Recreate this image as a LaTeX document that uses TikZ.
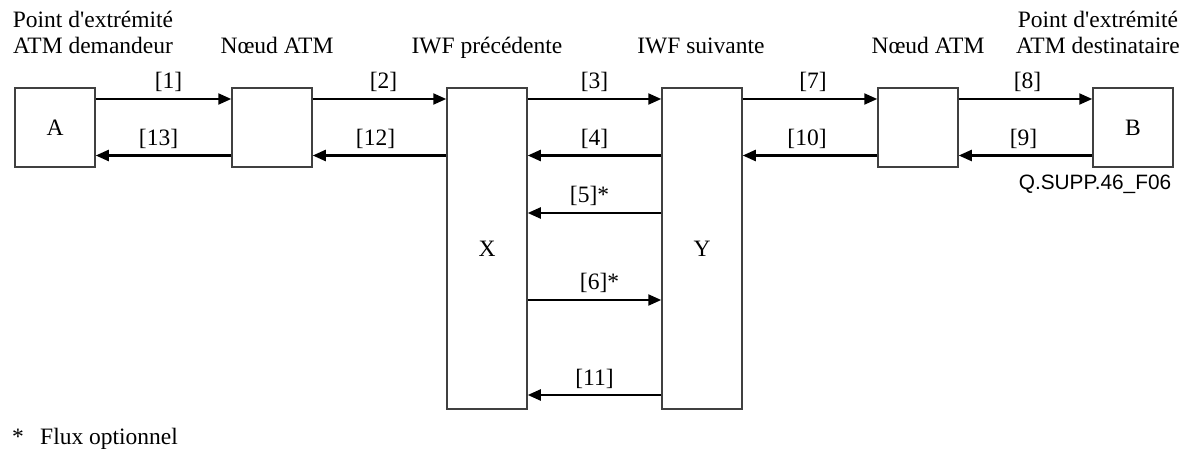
\documentclass[tikz,border=0pt]{standalone}
\usepackage{fontspec}
\setmainfont{Liberation Serif}
\newfontfamily\arialfont{Liberation Sans}
\usetikzlibrary{arrows.meta}
\begin{document}
\begin{tikzpicture}[x=1pt,y=-1pt,
  txt/.style={font=\fontsize{23.5}{27}\selectfont, inner sep=0pt},
  box/.style={txt, draw=black!75, line width=1.5pt, minimum width=80pt},
  smallbox/.style={box, minimum height=79pt},
  tallbox/.style={box, minimum height=321pt},
  flow/.style={line width=2.2pt, -{Triangle[length=13pt,width=11pt]}},
  lbl/.style={txt, anchor=base, midway, yshift=10pt},
  head/.style={txt, anchor=base}]
\useasboundingbox (0,0) rectangle (1192,454);
% boxes
\node[smallbox] (A)  at (55,127.5)  {A};
\node[smallbox] (N1) at (272,127.5) {};
\node[tallbox]  (X)  at (487,248.5) {X};
\node[tallbox]  (Y)  at (702,248.5) {Y};
\node[smallbox] (N2) at (918,127.5) {};
\node[smallbox] (B)  at (1133,127.5) {B};
% row levels
\coordinate (r1) at (0,99);
\coordinate (r2) at (0,155.5);
\coordinate (r3) at (0,213);
\coordinate (r4) at (0,300);
\coordinate (r5) at (0,395);
% headings
\node[head] (h1a) at (93,28) {Point d\textquotesingle extrémité};
\node[head] (h1b) at (93,54) {ATM demandeur};
\node[head] (h2)  at (277,54) {Nœud ATM};
\node[head] (h3)  at (487,54) {IWF précédente};
\node[head] (h4)  at (701,54) {IWF suivante};
\node[head] (h5)  at (928,54) {Nœud ATM};
\node[head] (h6a) at (1098,28) {Point d\textquotesingle extrémité};
\node[head] (h6b) at (1098,54) {ATM destinataire};
% flows
\draw[flow] (A.east |- r1) -- (N1.west |- r1) node[lbl, xshift=5pt] {[1]};
\draw[flow] (N1.east |- r1) -- (X.west |- r1) node[lbl, xshift=4pt] {[2]};
\draw[flow] (X.east |- r1) -- (Y.west |- r1) node[lbl] {[3]};
\draw[flow] (Y.east |- r1) -- (N2.west |- r1) node[lbl, xshift=3pt] {[7]};
\draw[flow] (N2.east |- r1) -- (B.west |- r1) node[lbl, xshift=2pt] {[8]};
\draw[flow] (N1.west |- r2) -- (A.east |- r2) node[lbl, xshift=-5pt] {[13]};
\draw[flow] (X.west |- r2) -- (N1.east |- r2) node[lbl, xshift=-4pt] {[12]};
\draw[flow] (Y.west |- r2) -- (X.east |- r2) node[lbl] {[4]};
\draw[flow] (N2.west |- r2) -- (Y.east |- r2) node[lbl, xshift=-3pt] {[10]};
\draw[flow] (B.west |- r2) -- (N2.east |- r2) node[lbl, xshift=-2pt] {[9]};
\draw[flow] (Y.west |- r3) -- (X.east |- r3) node[lbl, xshift=-5pt] {[5]*};
\draw[flow] (X.east |- r4) -- (Y.west |- r4) node[lbl, xshift=5pt] {[6]*};
\draw[flow] (Y.west |- r5) -- (X.east |- r5) node[lbl] {[11]};
% reference code
\node[inner sep=0pt, anchor=base, font=\arialfont\fontsize{20.8}{24}\selectfont] (ref) at (1095,190) {Q.SUPP.46\_F06};
% footnote
\node[head, anchor=base west] (fstar) at (12,444) {*};
\node[head, anchor=base west] (fnote) at (40,444) {Flux optionnel};
\end{tikzpicture}
\end{document}
